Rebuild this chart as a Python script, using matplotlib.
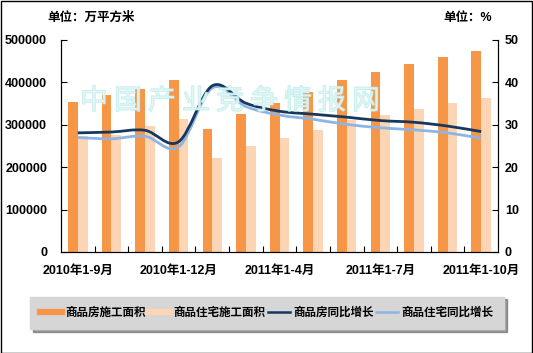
import numpy as np
import matplotlib
matplotlib.use("Agg")
import matplotlib.pyplot as plt
from matplotlib.path import Path
from matplotlib.patches import PathPatch, Rectangle
from matplotlib.lines import Line2D
import matplotlib.patheffects as pe

plt.rcParams['font.family'] = ['Liberation Sans', 'Noto Sans CJK SC', 'DejaVu Sans']

categories = ['2010年1-9月', '2010年1-10月', '2010年1-11月', '2010年1-12月',
              '2011年1-2月', '2011年1-3月', '2011年1-4月', '2011年1-5月',
              '2011年1-6月', '2011年1-7月', '2011年1-8月', '2011年1-9月', '2011年1-10月']
area_all = [354000, 370000, 384000, 405400, 290000, 325500, 352000, 377000,
            405700, 424500, 443400, 460600, 474000]
area_res = [273600, 276000, 298000, 313000, 222000, 250000, 269600, 287700,
            311000, 323000, 337000, 352000, 362500]
growth_all = [28.1, 28.3, 28.7, 26.0, 39.2, 35.1, 33.2, 32.5, 31.8, 31.0, 30.6, 29.7, 28.4]
growth_res = [27.0, 26.7, 27.3, 24.8, 38.7, 34.3, 32.3, 31.3, 30.1, 29.3, 28.8, 28.1, 26.8]
shown_labels = {0: '2010年1-9月', 3: '2010年1-12月', 6: '2011年1-4月', 9: '2011年1-7月', 12: '2011年1-10月'}
legend_labels = ['商品房施工面积', '商品住宅施工面积', '商品房同比增长', '商品住宅同比增长']

c_orange = '#F79646'
c_light = '#FCD5B5'
c_dark = '#17375E'
c_blue = '#8EB4E3'

W, H = 533, 353
fig = plt.figure(figsize=(W / 100, H / 100), dpi=100)
ax = fig.add_axes([61 / W, 1 - 252 / H, 437 / W, 212 / H])
ax2 = ax.twinx()

x = np.arange(len(categories))
bw = 0.29
ax.bar(x - bw / 2, area_all, width=bw, color=c_orange, zorder=2)
ax.bar(x + bw / 2, area_res, width=bw, color=c_light, zorder=2)
ax.set_xlim(-0.5, len(categories) - 0.5)
ax.set_ylim(0, 500000)
ax.set_yticks(np.arange(0, 500001, 100000))
ax.set_yticklabels([str(v) for v in range(0, 500001, 100000)])
ax.set_xticks(list(shown_labels.keys()))
ax.set_xticklabels(list(shown_labels.values()))
ax.set_xticks(np.arange(0.5, len(categories) - 1, 1.0), minor=True)
ax.tick_params(axis='x', which='major', length=0, pad=9)
ax.tick_params(axis='x', which='minor', direction='in', length=4, width=0.8)
ax.tick_params(axis='y', direction='in', length=4, width=0.8, pad=10)
for lab in ax.get_xticklabels() + ax.get_yticklabels():
    lab.set_fontsize(9)
    lab.set_fontweight('bold')

ax2.set_ylim(0, 50)
ax2.set_yticks(np.arange(0, 51, 10))
ax2.tick_params(axis='y', direction='in', length=4, width=0.8, pad=5)
for lab in ax2.get_yticklabels():
    lab.set_fontsize(9)
    lab.set_fontweight('bold')

for a in (ax, ax2):
    a.spines['top'].set_visible(False)
    for s in ('left', 'right', 'bottom'):
        a.spines[s].set_linewidth(0.8)


def smooth_path(xs, ys):
    p = np.column_stack([xs, ys]).astype(float)
    n = len(p)
    verts = [p[0]]
    codes = [Path.MOVETO]
    for i in range(n - 1):
        p0 = p[i - 1] if i > 0 else p[i]
        p3 = p[i + 2] if i + 2 < n else p[i + 1]
        c1 = p[i] + (p[i + 1] - p0) / 6.0
        c2 = p[i + 1] - (p3 - p[i]) / 6.0
        verts += [c1, c2, p[i + 1]]
        codes += [Path.CURVE4] * 3
    return Path(verts, codes)


ax2.add_patch(PathPatch(smooth_path(x, growth_res), facecolor='none', edgecolor=c_blue, lw=2.0, zorder=3))
ax2.add_patch(PathPatch(smooth_path(x, growth_all), facecolor='none', edgecolor=c_dark, lw=2.0, zorder=4))

# watermark
fig.text(230 / W, 1 - 101 / H, '中 国 产 业 竞 争 情 报 网', fontsize=20, color='#E2F7F7',
         family=['Noto Sans CJK SC'], ha='center', va='center', alpha=0.75, zorder=5,
         path_effects=[pe.withStroke(linewidth=1.0, foreground='#B4E8E8')])

fig.text(47 / W, 1 - 18 / H, '单位：万平方米', fontsize=9, fontweight='bold', va='center', ha='left')
fig.text(443 / W, 1 - 18 / H, '单位：%', fontsize=9, fontweight='bold', va='center', ha='left')

handles = [Line2D([], [], color=c_orange, lw=4.5),
           Line2D([], [], color=c_light, lw=4.5),
           Line2D([], [], color=c_dark, lw=1.8),
           Line2D([], [], color=c_blue, lw=1.8)]
leg = fig.legend(handles, legend_labels, loc='center', ncol=4,
                 bbox_to_anchor=(267 / W, 1 - 313 / H),
                 frameon=True, fancybox=False, shadow=True, borderaxespad=0,
                 borderpad=0.9, handlelength=1.9, handletextpad=0.3, columnspacing=0.2,
                 prop={'size': 8.3, 'weight': 'bold'})
leg.get_frame().set_facecolor('#D6D6D6')
leg.get_frame().set_edgecolor('#D6D6D6')
leg.get_frame().set_alpha(1)

fig.patches.append(Rectangle((0.5 / W, 0.5 / H), 1 - 1.5 / W, 1 - 1.5 / H, transform=fig.transFigure,
                             fill=False, edgecolor='black', lw=1.0))

fig.savefig('out.png', dpi=100)
